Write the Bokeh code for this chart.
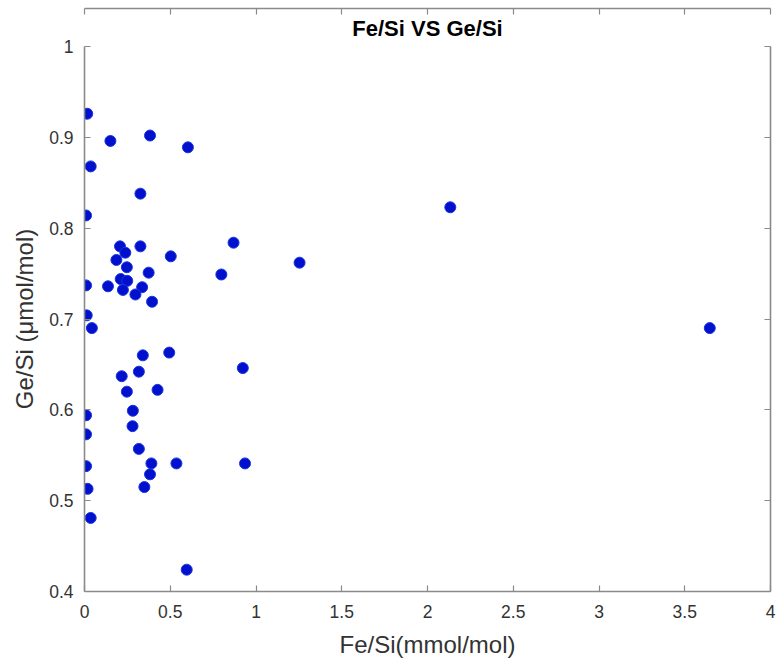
from bokeh.plotting import figure
from bokeh.models import LinearAxis, FixedTicker, CustomJSTickFormatter, Range1d, Title
from bokeh.embed import file_html
from bokeh.resources import INLINE

fe_si = [0.016, 0.151, 0.382, 0.603, 0.036, 0.326, 0.009, 0.869, 0.207, 0.326,
         0.238, 0.503, 0.186, 0.247, 0.374, 0.798, 0.009, 0.137, 0.211, 0.249,
         0.224, 0.336, 0.297, 0.394, 0.013, 0.043, 0.340, 0.494, 0.923, 0.217,
         0.317, 0.247, 0.426, 0.282, 0.009, 0.280, 0.009, 0.317, 0.009, 0.390,
         0.536, 0.936, 0.382, 0.349, 0.018, 0.036, 0.596, 2.133, 1.254, 3.646]
ge_si = [0.926, 0.896, 0.902, 0.889, 0.868, 0.838, 0.814, 0.784, 0.780, 0.780,
         0.773, 0.769, 0.765, 0.757, 0.751, 0.749, 0.737, 0.736, 0.744, 0.742,
         0.732, 0.735, 0.727, 0.719, 0.704, 0.690, 0.660, 0.663, 0.646, 0.637,
         0.642, 0.620, 0.622, 0.599, 0.594, 0.582, 0.573, 0.557, 0.538, 0.541,
         0.541, 0.541, 0.529, 0.515, 0.513, 0.481, 0.424, 0.823, 0.762, 0.690]

x_ticks = [0, 0.5, 1, 1.5, 2, 2.5, 3, 3.5, 4]
y_ticks = [0.4, 0.5, 0.6, 0.7, 0.8, 0.9, 1.0]

FONT = "Liberation Sans"
AXIS_COLOR = "#8a8a8a"
TEXT_COLOR = "#333333"

p = figure(width=783, height=662, output_backend="svg", toolbar_location=None,
           x_range=Range1d(0, 4), y_range=Range1d(0.4, 1.0),
           min_border_left=84, min_border_right=13, min_border_top=46, min_border_bottom=71)
p.title = None
p.add_layout(Title(text="Fe/Si VS Ge/Si", align="center", text_font=FONT,
                   text_font_size="22px", text_font_style="bold", text_color="#000000",
                   standoff=11), "above")
p.xgrid.visible = False
p.ygrid.visible = False
p.outline_line_color = None
p.background_fill_color = "white"
p.border_fill_color = "white"

fmt_code = "return String(Math.round(tick*10)/10);"

def style(ax, ticks, labels=True):
    ax.ticker = FixedTicker(ticks=ticks)
    ax.formatter = CustomJSTickFormatter(code=fmt_code)
    ax.axis_line_color = AXIS_COLOR
    ax.axis_line_width = 1.6
    ax.major_tick_line_color = AXIS_COLOR
    ax.major_tick_line_width = 1.2
    ax.major_tick_in = 6
    ax.major_tick_out = 0
    ax.minor_tick_line_color = None
    ax.major_label_text_font = FONT
    ax.major_label_text_font_size = "17.5px"
    ax.major_label_text_color = TEXT_COLOR if labels else None
    ax.axis_label_text_font = FONT
    ax.axis_label_text_font_size = "24px"
    ax.axis_label_text_font_style = "normal"
    ax.axis_label_text_color = TEXT_COLOR

style(p.xaxis[0], x_ticks)
style(p.yaxis[0], y_ticks)
p.xaxis[0].axis_label = "Fe/Si(mmol/mol)"
p.yaxis[0].axis_label = "Ge/Si (μmol/mol)"
p.xaxis[0].major_label_standoff = 13
p.yaxis[0].major_label_standoff = 11
p.xaxis[0].axis_label_standoff = 10
p.yaxis[0].axis_label_standoff = 8

top = LinearAxis()
style(top, x_ticks, labels=False)
top.major_label_text_font_size = "0px"
top.major_label_standoff = 0
right = LinearAxis()
style(right, y_ticks, labels=False)
right.major_label_text_font_size = "0px"
right.major_label_standoff = 0
p.add_layout(top, "above")
p.add_layout(right, "right")

p.scatter(fe_si, ge_si, size=11, fill_color="#0010cc", line_color="#1a35e0", line_width=1)

open("out.html", "w").write(file_html(p, INLINE))
